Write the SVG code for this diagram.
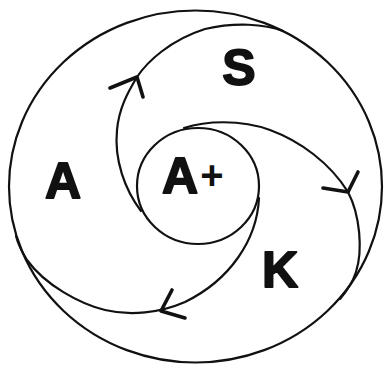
<svg xmlns="http://www.w3.org/2000/svg" width="385" height="365" viewBox="0 0 385 365">
<style>
.ln{fill:none;stroke:#111;stroke-width:2.2;stroke-linecap:round;stroke-linejoin:round}
.ah{fill:none;stroke:#111;stroke-width:3.6;stroke-linecap:round;stroke-linejoin:round}
.lb{font-family:"Liberation Sans",Arial,sans-serif;font-weight:bold;font-size:50px;fill:#111;stroke:#111;stroke-width:1.8;stroke-linejoin:round;text-anchor:middle}
.pl{font-family:"Liberation Sans",Arial,sans-serif;font-weight:bold;font-size:40px;fill:#111;text-anchor:middle}
</style>
<rect width="385" height="365" fill="#fff"/>
<g id="outer-circle">
<ellipse class="ln" cx="195.5" cy="186.5" rx="186.5" ry="176" stroke-width="2.5"/>
</g>
<g id="inner-circle">
<ellipse class="ln" cx="198" cy="186" rx="61" ry="58"/>
<text class="lb" x="180" y="193">A</text>
<text class="pl" x="212" y="189">+</text>
</g>
<g id="region-A"><text class="lb" x="63" y="198">A</text></g>
<g id="region-S"><text class="lb" x="239" y="85">S</text></g>
<g id="region-K"><text class="lb" x="280" y="287">K</text></g>
<g id="connectors">
<path class="ln" d="M141,211 C125,190 114,160 117,130 C119,108 128,92 137,77 C147,62 170,40 205,29 C235,22 265,24 283,31"/>
<path class="ln" d="M184,128 C205,121 240,119 270,130 C300,141 330,163 348,192 C360,215 363,250 356,272 C352,284 347,291 340,299"/>
<path class="ln" d="M259,198 C257,240 230,280 185,302 C160,313 130,316 105,310 C80,304 45,285 27,260 C22,252 18,244 16,236"/>
<path class="ah" d="M110,88 L137,77 L143,97"/>
<path class="ah" d="M323,188 L348,192 L358,172"/>
<path class="ah" d="M172,290 L161,311 L185,318"/>
</g>
</svg>
